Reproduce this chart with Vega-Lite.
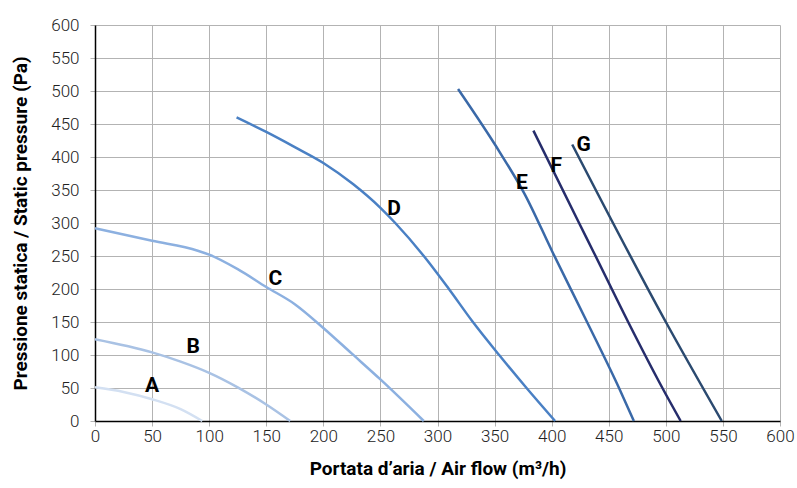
{
  "$schema": "https://vega.github.io/schema/vega-lite/v6.json",
  "width": 685,
  "height": 396,
  "autosize": {"type": "none"},
  "padding": {"left": 95, "top": 25, "right": 17, "bottom": 67},
  "background": "white",
  "config": {
    "font": "Roboto, Liberation Sans, sans-serif",
    "view": {"stroke": null},
    "axis": {"labelOverlap": false, "labelBound": false}
  },
  "datasets": {
    "curves": [
      {"s": "A", "q": 0, "p": 51}, {"s": "A", "q": 25, "p": 44}, {"s": "A", "q": 50, "p": 33}, {"s": "A", "q": 75, "p": 18}, {"s": "A", "q": 94, "p": 0},
      {"s": "B", "q": 0, "p": 124}, {"s": "B", "q": 50, "p": 104}, {"s": "B", "q": 75, "p": 90}, {"s": "B", "q": 100, "p": 73}, {"s": "B", "q": 125, "p": 51}, {"s": "B", "q": 150, "p": 25}, {"s": "B", "q": 171, "p": 0},
      {"s": "C", "q": 0, "p": 292}, {"s": "C", "q": 50, "p": 273}, {"s": "C", "q": 90, "p": 258}, {"s": "C", "q": 100, "p": 252}, {"s": "C", "q": 125, "p": 230}, {"s": "C", "q": 150, "p": 203}, {"s": "C", "q": 175, "p": 177}, {"s": "C", "q": 200, "p": 141}, {"s": "C", "q": 225, "p": 102}, {"s": "C", "q": 250, "p": 63}, {"s": "C", "q": 288, "p": 0},
      {"s": "D", "q": 124, "p": 460}, {"s": "D", "q": 150, "p": 438}, {"s": "D", "q": 175, "p": 415}, {"s": "D", "q": 200, "p": 391}, {"s": "D", "q": 226, "p": 359}, {"s": "D", "q": 250, "p": 323}, {"s": "D", "q": 263, "p": 300}, {"s": "D", "q": 288, "p": 250}, {"s": "D", "q": 310, "p": 200}, {"s": "D", "q": 331, "p": 150}, {"s": "D", "q": 354, "p": 100}, {"s": "D", "q": 378, "p": 50}, {"s": "D", "q": 403, "p": 0},
      {"s": "E", "q": 318, "p": 503}, {"s": "E", "q": 355, "p": 406}, {"s": "E", "q": 376, "p": 345}, {"s": "E", "q": 401, "p": 255}, {"s": "E", "q": 431, "p": 150}, {"s": "E", "q": 459, "p": 50}, {"s": "E", "q": 472, "p": 0},
      {"s": "F", "q": 384, "p": 440}, {"s": "F", "q": 424, "p": 300}, {"s": "F", "q": 437, "p": 255}, {"s": "F", "q": 467, "p": 150}, {"s": "F", "q": 497, "p": 50}, {"s": "F", "q": 513, "p": 0},
      {"s": "G", "q": 418, "p": 419}, {"s": "G", "q": 500, "p": 150}, {"s": "G", "q": 549, "p": 0}
    ],
    "labels": [
      {"s": "A", "q": 50, "p": 53},
      {"s": "B", "q": 86, "p": 112},
      {"s": "C", "q": 158, "p": 215},
      {"s": "D", "q": 262, "p": 321},
      {"s": "E", "q": 374, "p": 361},
      {"s": "F", "q": 404, "p": 386},
      {"s": "G", "q": 428, "p": 418}
    ]
  },
  "encoding": {
    "x": {
      "field": "q", "type": "quantitative",
      "scale": {"domain": [0, 600], "nice": false},
      "axis": {
        "values": [0, 50, 100, 150, 200, 250, 300, 350, 400, 450, 500, 550, 600],
        "title": "Portata d’aria / Air flow (m³/h)",
        "titleFontSize": 19, "titleFontWeight": "bold", "titleColor": "#000", "titlePadding": 15,
        "labelFontSize": 17, "labelFontWeight": 300, "labelColor": "#222", "labelPadding": 2, "labelFlush": false, "labelOverlap": false,
        "domainColor": "#000", "domainWidth": 1.5,
        "tickColor": "#b3b3b3", "tickSize": 5,
        "gridColor": "#b3b3b3", "gridWidth": 1, "gridOpacity": 1
      }
    },
    "y": {
      "field": "p", "type": "quantitative",
      "scale": {"domain": [0, 600], "nice": false},
      "axis": {
        "values": [0, 50, 100, 150, 200, 250, 300, 350, 400, 450, 500, 550, 600],
        "title": "Pressione statica / Static pressure (Pa)",
        "titleFontSize": 19, "titleFontWeight": "bold", "titleColor": "#000", "titlePadding": 20,
        "labelFontSize": 17, "labelFontWeight": 300, "labelColor": "#222", "labelPadding": 11, "labelFlush": false, "labelOverlap": false,
        "domainColor": "#000", "domainWidth": 1.5,
        "tickColor": "#b3b3b3", "tickSize": 5,
        "gridColor": "#b3b3b3", "gridWidth": 1, "gridOpacity": 1
      }
    }
  },
  "layer": [
    {
      "data": {"name": "curves"},
      "mark": {"type": "line", "interpolate": "monotone", "strokeWidth": 2.5},
      "encoding": {
        "color": {
          "field": "s", "type": "nominal",
          "scale": {
            "domain": ["A", "B", "C", "D", "E", "F", "G"],
            "range": ["#d3e0f2", "#a9c2e4", "#8cb0e0", "#4a80c4", "#3a69a8", "#262d6c", "#2b4a70"]
          },
          "legend": null
        }
      }
    },
    {
      "data": {"name": "labels"},
      "mark": {"type": "text", "fontSize": 21, "fontWeight": "bold", "color": "#000", "align": "center", "baseline": "middle"},
      "encoding": {
        "text": {"field": "s"}
      }
    }
  ]
}
